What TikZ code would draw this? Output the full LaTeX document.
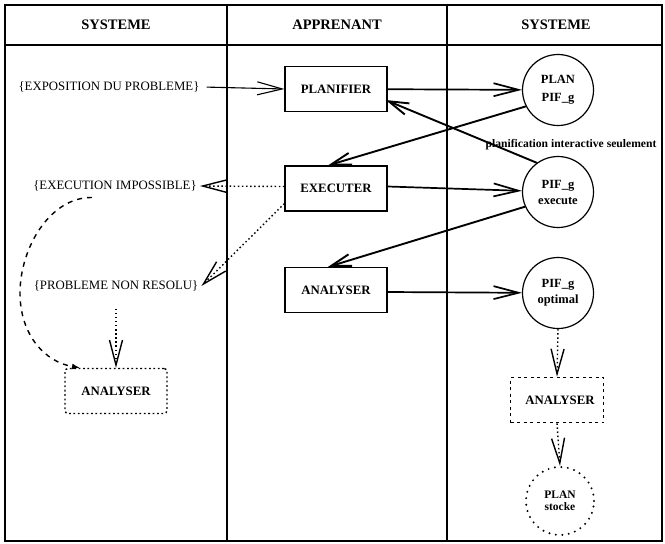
\documentclass[tikz,border=0pt]{standalone}
\usepackage{fontspec}
\setmainfont{Liberation Serif}
\usetikzlibrary{arrows.meta}

\tikzset{
  grid line/.style={line width=1.5pt},
  hdr/.style={font=\bfseries\fontsize{14.5}{16}\selectfont},
  actbox/.style={draw, line width=1.2pt, minimum width=102pt, minimum height=45pt,
    inner sep=0pt, font=\bfseries\fontsize{12.8}{14}\selectfont},
  state/.style={circle, draw, line width=1.2pt, minimum size=71pt, inner sep=0pt,
    align=center, font=\bfseries\fontsize{12.5}{14}\selectfont},
  msg/.style={inner sep=3pt, font=\fontsize{12.8}{14}\selectfont},
  barb/.style={-{Straight Barb[length=25pt,width=13pt]}},
  flow/.style={barb, line width=1.7pt},
  back/.style={-{Straight Barb[length=20pt,width=12pt]}, line width=1.9pt},
  fail/.style={barb, line width=1.4pt, dash pattern=on 1.5pt off 2.6pt},
  dotbox/.style={draw, line width=1.4pt, dash pattern=on 1.8pt off 2.6pt,
    rounded corners=3pt, minimum width=102pt, minimum height=45pt,
    font=\bfseries\fontsize{12.8}{14}\selectfont},
  dashbox/.style={draw, line width=1.6pt, dash pattern=on 3pt off 3.5pt,
    minimum width=93pt, minimum height=45pt,
    font=\bfseries\fontsize{12.8}{14}\selectfont},
  dotcircle/.style={circle, draw, line width=2.2pt, line cap=round,
    dash pattern=on 0pt off 6.5pt, minimum size=68pt, inner sep=0pt,
    align=center, font=\bfseries\fontsize{11.5}{13}\selectfont},
}

\begin{document}
\begin{tikzpicture}[x=1pt, y=-1pt]
  \useasboundingbox (0,0) rectangle (665,544);

  % table frame, header row and the three swimlanes
  \draw[grid line] (5,5) rectangle (662,541);
  \draw[grid line] (5,45) -- (662,45);
  \draw[grid line] (227,5) -- (227,541);
  \draw[grid line] (447,5) -- (447,541);

  \node[hdr] (hdrA) at (116,25) {SYSTEME};
  \node[hdr] (hdrB) at (337,25) {APPRENANT};
  \node[hdr] (hdrC) at (556,25) {SYSTEME};

  % left lane: system messages
  \node[msg] (expo) at (109,87) {\{EXPOSITION DU PROBLEME\}};
  \node[msg] (execimp) at (115,186) {\{EXECUTION IMPOSSIBLE\}};
  \node[msg] (pnr) at (116,286) {\{PROBLEME NON RESOLU\}};
  \node[dotbox] (aleft) at (116,391) {ANALYSER};

  % middle lane: learner activities
  \node[actbox] (planif) at (336,89) {PLANIFIER};
  \node[actbox] (exec) at (336,188.5) {EXECUTER};
  \node[actbox] (anal) at (336,290) {ANALYSER};

  % right lane: plan states
  \node[state] (c1) at (558,90) {PLAN\\[4pt]PIF\_g};
  \node[state] (c2) at (558,192) {PIF\_g\\[2pt]execute};
  \node[state] (c3) at (558,293) {PIF\_g\\[2pt]optimal};
  \node[dashbox] (aright) at (557,400) {\hspace*{6pt}ANALYSER};
  \node[dotcircle] (stock) at (560,501) {PLAN\\[-1pt]stocke};

  \node[font=\bfseries\fontsize{11.6}{13}\selectfont, inner sep=0pt] (lbl)
    at (571,145) {planification interactive seulement};

  % main flow
  \draw[barb, line width=1.1pt, shorten <=4pt] (expo.east) -- (planif.west);
  \draw[flow] (planif) -- (c1);
  \draw[flow] ([yshift=2pt]exec.east) -- (c2);
  \draw[flow] ([yshift=-2pt]anal.east) -- (c3);
  \draw[back] (c1.207) -- ([xshift=-8pt]exec.north);
  \draw[back] (c2.126) -- ([xshift=-2pt,yshift=-11pt]planif.east);
  \draw[back] (c2.204) -- ([xshift=-8pt]anal.north);

  % failure branches
  \draw[fail] ([yshift=2pt]exec.west) -- (execimp.east);
  \draw[fail] ([yshift=8pt]exec.south west) -- (pnr.east);
  \draw[fail, shorten <=14pt] (pnr.south) -- (aleft.north);
  \coordinate (arcL) at (20,293);
  \draw[line width=1.4pt, dash pattern=on 5pt off 5pt,
        -{Latex[length=8pt,width=6pt]}]
    ([xshift=-23pt,yshift=-3pt]execimp.south)
      .. controls (50,197) and (20,248) .. (arcL)
      .. controls (20,335) and (45,362) .. ([xshift=-36pt]aleft.north);

  % final analysis of the optimal plan
  \draw[fail] (c3.south) -- (aright.north);
  \draw[fail] (aright.south) -- (stock.north);
\end{tikzpicture}
\end{document}
